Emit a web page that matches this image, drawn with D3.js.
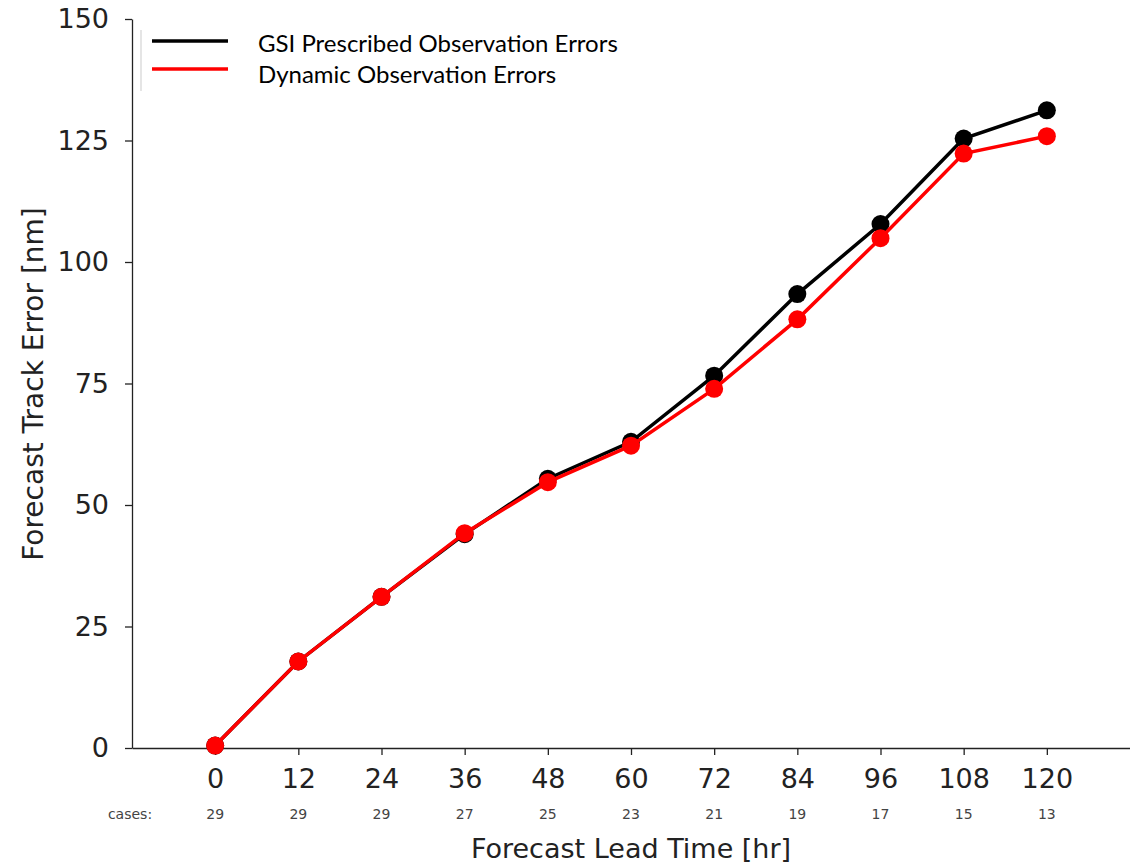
<!DOCTYPE html>
<html>
<head>
<meta charset="utf-8">
<script src="https://cdn.jsdelivr.net/npm/d3@7"></script>
<style>
  body { margin: 0; background: #fff; }
  svg { display: block; }
</style>
</head>
<body>
<div id="chart"></div>
<script>
// data
const leadTimes = [0, 12, 24, 36, 48, 60, 72, 84, 96, 108, 120];
const cases = [29, 29, 29, 27, 25, 23, 21, 19, 17, 15, 13];
const gsiErrors = [0.5, 17.8, 31.1, 44.0, 55.4, 63.0, 76.6, 93.4, 107.8, 125.4, 131.2];
const dynErrors = [0.5, 17.8, 31.1, 44.2, 54.7, 62.2, 73.9, 88.2, 104.9, 122.3, 125.9];
const yTicks = [0, 25, 50, 75, 100, 125, 150];
const seriesNames = ["GSI Prescribed Observation Errors", "Dynamic Observation Errors"];
const seriesColors = ["#000000", "#ff0000"];

const W = 1130, H = 867;
const margin = { top: 19, right: 0, bottom: 119, left: 132 };
const width = W - margin.left - margin.right;
const height = H - margin.top - margin.bottom;

const svg = d3.select("#chart")
  .append("svg")
    .attr("width", W)
    .attr("height", H);

const g = svg.append("g")
  .attr("transform", "translate(" + margin.left + "," + margin.top + ")");

const x = d3.scaleLinear().domain([-12, 132]).range([0, width]);
const y = d3.scaleLinear().domain([0, 150]).range([height, 0]);

// x axis
const xAxis = g.append("g")
  .attr("transform", "translate(0," + height + ")")
  .call(d3.axisBottom(x).tickValues(leadTimes).tickSize(7).tickPadding(14).tickSizeOuter(0));
xAxis.select(".domain").attr("stroke", "#222").attr("stroke-width", 1.3);
xAxis.selectAll(".tick line").attr("stroke", "#222").attr("stroke-width", 1.3);
xAxis.selectAll(".tick text")
  .attr("font-family", "DejaVu Sans")
  .attr("font-size", 27)
  .attr("fill", "#222");

// y axis
const yAxis = g.append("g")
  .call(d3.axisLeft(y).tickValues(yTicks).tickSize(7).tickPadding(16).tickSizeOuter(0));
yAxis.select(".domain").attr("stroke", "#222").attr("stroke-width", 1.3);
yAxis.selectAll(".tick line").attr("stroke", "#222").attr("stroke-width", 1.3);
yAxis.selectAll(".tick text")
  .attr("font-family", "DejaVu Sans")
  .attr("font-size", 27)
  .attr("fill", "#222");

// cases row
g.append("text")
  .attr("x", -2)
  .attr("y", height + 71)
  .attr("text-anchor", "middle")
  .attr("font-family", "DejaVu Sans")
  .attr("font-size", 14)
  .attr("fill", "#444")
  .text("cases:");

g.selectAll(".case")
  .data(leadTimes)
  .enter().append("text")
    .attr("class", "case")
    .attr("x", d => x(d))
    .attr("y", height + 71)
    .attr("text-anchor", "middle")
    .attr("font-family", "DejaVu Sans")
    .attr("font-size", 14)
    .attr("fill", "#444")
    .text((d, i) => cases[i]);

// axis titles
g.append("text")
  .attr("x", 631 - margin.left)
  .attr("y", height + 110)
  .attr("text-anchor", "middle")
  .attr("font-family", "DejaVu Sans")
  .attr("font-size", 27)
  .attr("fill", "#222")
  .text("Forecast Lead Time [hr]");

g.append("text")
  .attr("transform", "translate(" + (43 - margin.left) + "," + (384 - margin.top) + ") rotate(-90)")
  .attr("text-anchor", "middle")
  .attr("font-family", "DejaVu Sans")
  .attr("font-size", 28)
  .attr("fill", "#222")
  .text("Forecast Track Error [nm]");

// series
const line = d3.line()
  .x((d, i) => x(leadTimes[i]))
  .y(d => y(d));

[gsiErrors, dynErrors].forEach(function(vals, k) {
  g.append("path")
    .datum(vals)
    .attr("fill", "none")
    .attr("stroke", seriesColors[k])
    .attr("stroke-width", 3.5)
    .attr("d", line);

  g.selectAll(".dot" + k)
    .data(vals)
    .enter().append("circle")
      .attr("class", "dot" + k)
      .attr("cx", (d, i) => x(leadTimes[i]))
      .attr("cy", d => y(d))
      .attr("r", 9)
      .attr("fill", seriesColors[k]);
});

// legend
const legend = svg.append("g");
legend.append("line")
  .attr("x1", 141).attr("x2", 141)
  .attr("y1", 30).attr("y2", 91)
  .attr("stroke", "#ddd")
  .attr("stroke-width", 1.5);

seriesNames.forEach(function(name, k) {
  const ly = 41 + k * 28;
  legend.append("line")
    .attr("x1", 152).attr("x2", 228)
    .attr("y1", ly).attr("y2", ly)
    .attr("stroke", seriesColors[k])
    .attr("stroke-width", 3.5);
  legend.append("text")
    .attr("x", 258)
    .attr("y", 46 + k * 31)
    .attr("dominant-baseline", "middle")
    .attr("font-family", "Lato")
    .attr("font-size", 24)
    .attr("fill", "#000")
    .text(name);
});
</script>
</body>
</html>
